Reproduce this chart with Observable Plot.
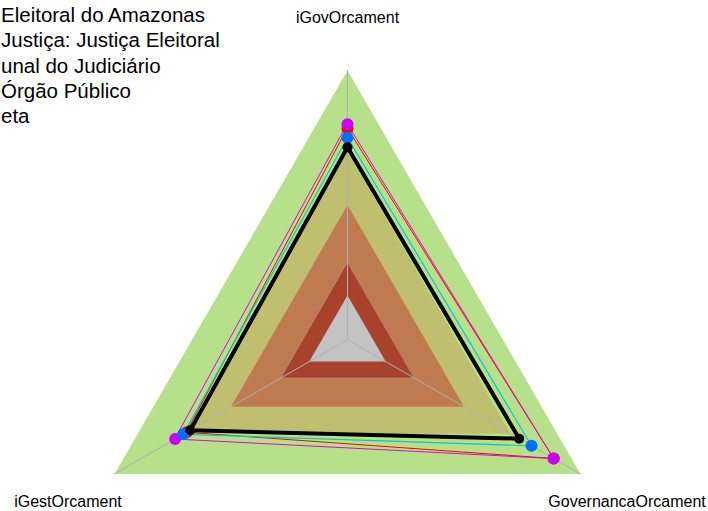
<!DOCTYPE html>
<html>
<head>
<meta charset="utf-8">
<script src="https://cdn.jsdelivr.net/npm/d3@7"></script>
<script src="https://cdn.jsdelivr.net/npm/@observablehq/plot@0.6"></script>
<style>
  html, body { margin: 0; padding: 0; background: #fff; }
  #wrap { position: relative; width: 708px; height: 511px; overflow: hidden; font-family: "Liberation Sans", Arial, sans-serif; }
  #legend { position: absolute; left: 1px; top: 2px; font-size: 20.5px; line-height: 25.3px; color: #000; white-space: nowrap; }
</style>
</head>
<body>
<div id="wrap"><div id="legend"></div></div>
<script>
// Axes of the radar (clockwise from top)
const axes = ["iGovOrcament", "GovernancaOrcament", "iGestOrcament"];
const angles = [90, -30, 210];

// Legend labels (as visible in the picture)
const legendLabels = ["Eleitoral do Amazonas", "Justiça: Justiça Eleitoral", "unal do Judiciário", "Órgão Público", "eta"];

// Series values in axis order (iGov, Governanca, iGest)
const seriesRed     = [0.785, 0.885, 0.69];
const seriesMagenta = [0.80, 0.885, 0.74];
const seriesYellow  = [0.72, 0.75, 0.69];
const seriesBlue    = [0.75, 0.79, 0.705];
const seriesBlack   = [0.715, 0.737, 0.675];

// Background bands (outer to inner)
const bandLevels = [1, 0.7, 0.5, 0.286, 0.164];
const bandColors = ["#b7e08b", "#c0bf70", "#c07a4f", "#a8422d", "#c3c3c3"];

const rad = a => a * Math.PI / 180;
const toXY = (vals, name) => vals.map((v, i) => ({ name, axis: axes[i], x: v * Math.cos(rad(angles[i])), y: v * Math.sin(rad(angles[i])) }));

const bands = bandLevels.flatMap((lv, k) => toXY(axes.map(() => lv), "b" + k).map(d => ({ ...d, k })));
const spokes = axes.flatMap((a, i) => [{ a, x: 0, y: 0 }, { a, x: Math.cos(rad(angles[i])), y: Math.sin(rad(angles[i])) }]);
const labels = axes.map((a, i) => ({ a, x: 1.2 * Math.cos(rad(angles[i])), y: 1.2 * Math.sin(rad(angles[i])) }));

const series = [
  { vals: seriesYellow, line: "#f2f200", pt: null, w: 1.2 },
  { vals: seriesRed, line: "#ff0000", pt: "#ff0000", w: 1 },
  { vals: seriesMagenta, line: "#e000e0", pt: "#cc00ff", w: 1 },
  { vals: seriesBlue, line: "#00c8d8", pt: "#0070ff", w: 1.2 },
  { vals: seriesBlack, line: "#000000", pt: "#000000", w: 4 }
];

const cx = 347, cy = 339, R = 269;
const W = 708, H = 511;

const marks = [];
bandLevels.forEach((lv, k) => {
  marks.push(Plot.line(bands.filter(d => d.k === k), { x: "x", y: "y", curve: "linear-closed", fill: bandColors[k], stroke: k === 3 ? "#9a9a9a" : "none", strokeWidth: 0.6 }));
});
marks.push(Plot.line(spokes, { x: "x", y: "y", z: "a", stroke: "#b0b0b0", strokeWidth: 1 }));
series.forEach((s, j) => {
  const pts = toXY(s.vals, "s" + j);
  marks.push(Plot.line(pts, { x: "x", y: "y", curve: "linear-closed", stroke: s.line, strokeWidth: s.w, fill: "none" }));
});
series.forEach((s, j) => {
  if (!s.pt) return;
  const pts = toXY(s.vals, "s" + j);
  marks.push(Plot.dot(pts, { x: "x", y: "y", r: j === 4 ? 5 : 6, fill: s.pt, stroke: "none" }));
});
marks.push(Plot.text(labels, { x: "x", y: "y", text: "a", fontSize: 16, fill: "#000", textAnchor: "middle", dy: 1 }));

const chart = Plot.plot({
  width: W, height: H,
  marginTop: 0, marginBottom: 0, marginLeft: 0, marginRight: 0,
  x: { domain: [-cx / R, (W - cx) / R], range: [0, W], axis: null },
  y: { domain: [-(H - cy) / R, cy / R], range: [H, 0], axis: null },
  style: { fontFamily: "Liberation Sans, Arial, sans-serif", background: "#fff" },
  marks
});
chart.style.position = "absolute";
chart.style.left = "0";
chart.style.top = "0";
const wrap = document.getElementById("wrap");
wrap.insertBefore(chart, wrap.firstChild);
document.getElementById("legend").innerHTML = legendLabels.map(t => `<div>${t}</div>`).join("");
</script>
</body>
</html>
